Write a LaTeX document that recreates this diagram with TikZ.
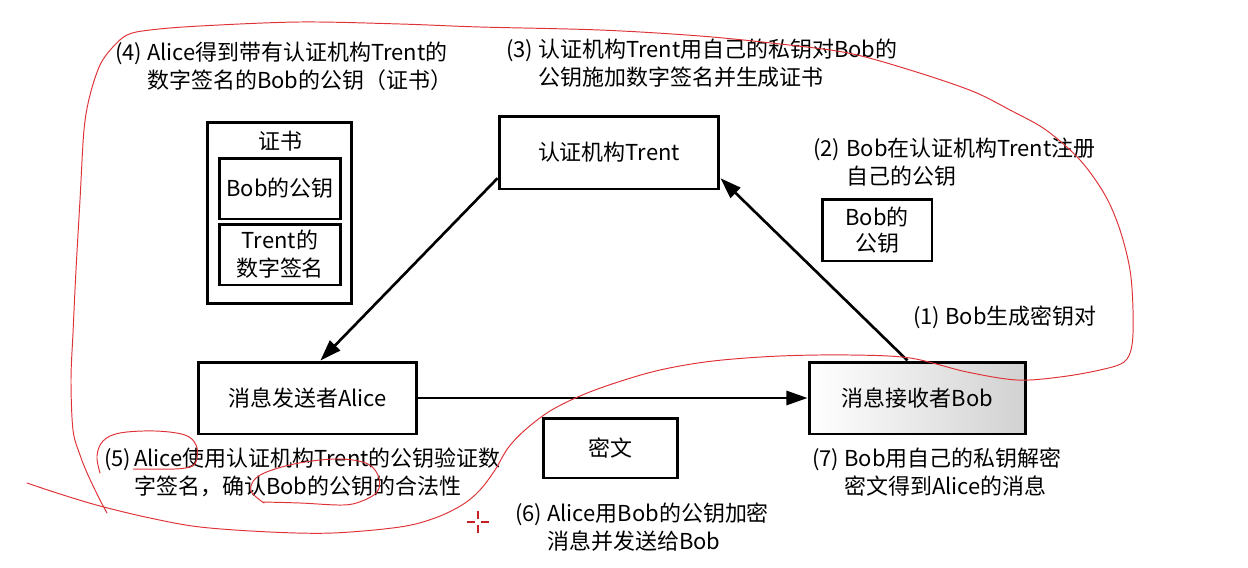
\documentclass[tikz,border=0pt]{standalone}
\usepackage{fontspec}
\setmainfont{Noto Sans CJK SC}
\usetikzlibrary{arrows.meta}
\definecolor{inkred}{RGB}{222,50,55}
\definecolor{cursorred}{RGB}{200,30,40}
\begin{document}
\begin{tikzpicture}[x=0.02cm,y=-0.02cm,
  font=\fontsize{12.5pt}{16pt}\selectfont,
  box/.style={draw, line width=1.7pt, inner sep=0pt, align=center},
  flow/.style={line width=1.5pt, -{Triangle[length=12pt,width=8pt]}},
  note/.style={anchor=base west, inner sep=0pt},
  ink/.style={draw=inkred, line width=0.55pt, line cap=round, line join=round},
  crosshair/.style={draw=cursorred, line width=1.1pt}]

\useasboundingbox (0,0) rectangle (1248,568);

% ---- boxes ----
\node[box, minimum width=4.4cm, minimum height=1.46cm] (trent) at (609,152.5) {认证机构Trent};
\node[box, minimum width=4.38cm, minimum height=1.44cm] (alice) at (307.5,398) {消息发送者Alice};
\node[box, minimum width=4.34cm, minimum height=1.44cm,
      left color=white, right color=black!18] (bob) at (917.5,398) {消息接收者Bob};
\node[box, minimum width=2.7cm, minimum height=1.2cm] (cipher) at (610.5,448) {密文};
\node[box, minimum width=2.2cm, minimum height=1.24cm,
      font=\fontsize{12.5pt}{14.5pt}\selectfont] (bobkey) at (877,230) {Bob的\\公钥};

% certificate
\node[box, minimum width=2.9cm, minimum height=3.64cm] (cert) at (279.5,213) {};
\node (certtitle) at (280,141) {证书};
\node[box, minimum width=2.44cm, minimum height=1.22cm] (certkey) at (280,188.5) {Bob的公钥};
\node[box, minimum width=2.44cm, minimum height=1.22cm] (certsig) at (280,254.5) {Trent的\\数字签名};

% ---- connectors ----
\draw[flow] (trent.193) -- (alice.71);
\draw[flow] (bob.105) -- (trent.347);
\draw[flow] (alice.east) -- (bob.west);

% ---- step notes ----
\node[note] (n4) at (115,60) {(4)};
\node[note] (t4) at (147,60) {\begin{tabular}[t]{@{}l@{}}Alice得到带有认证机构Trent的\\数字签名的Bob的公钥（证书）\end{tabular}};

\node[note] (n3) at (506,57) {(3)};
\node[note] (t3) at (538,57) {\begin{tabular}[t]{@{}l@{}}认证机构Trent用自己的私钥对Bob的\\公钥施加数字签名并生成证书\end{tabular}};

\node[note] (n2) at (813,156) {(2)};
\node[note] (t2) at (846,156) {\begin{tabular}[t]{@{}l@{}}Bob在认证机构Trent注册\\自己的公钥\end{tabular}};

\node[note] (n1) at (913,324) {(1) Bob生成密钥对};

\node[note] (n5) at (104,466) {(5)};
\node[note] (t5) at (134,466) {\begin{tabular}[t]{@{}l@{}}Alice使用认证机构Trent的公钥验证数\\字签名，确认Bob的公钥的合法性\end{tabular}};

\node[note] (n7) at (812,466) {(7)};
\node[note] (t7) at (844,466) {\begin{tabular}[t]{@{}l@{}}Bob用自己的私钥解密\\密文得到Alice的消息\end{tabular}};

\node[note] (n6) at (515,521) {(6)};
\node[note] (t6) at (547,521) {\begin{tabular}[t]{@{}l@{}}Alice用Bob的公钥加密\\消息并发送给Bob\end{tabular}};

% ---- red pen annotations ----
\draw[ink] plot[smooth, tension=0.55] coordinates {
  (27,483) (60,494) (100,506) (150,518) (200,527) (270,532) (333,533)
  (400,527) (435,518) (462,505) (480,490) (495,470) (508,448) (525,430)
  (550,411) (580,396) (615,383) (660,370) (713,361) (780,356) (850,355)
  (910,358) (967,372) (1017,380) (1060,377) (1100,370) (1124,362)
  (1132,345) (1133,310) (1130,270) (1120,230) (1105,195) (1080,160)
  (1046,130) (1010,110) (972,91) (910,70) (848,53) (780,44) (700,36)
  (600,30) (480,27) (400,24) (300,22) (200,26) (150,30) (127,35)
  (112,48) (100,65) (90,95) (84,130) (80,200) (76,270) (73,333)
  (71,380) (73,430) (80,455) (88,475) (100,500) (107,513)};
\draw[ink] plot[smooth, tension=0.6] coordinates {
  (100,473) (97,456) (103,441) (120,433) (155,431) (185,435) (196,445)
  (197,458) (192,466) (175,469) (133,469)};
\draw[ink] plot[smooth, tension=0.6] coordinates {
  (264,503) (251,491) (256,478) (275,469) (305,462) (340,459) (368,464)
  (379,478) (377,492) (362,501) (343,505) (300,503) (262,502)};

% pointer cross
\draw[crosshair] (467,522) -- (475,522) (481,522) -- (489,522)
                 (478,511) -- (478,519) (478,525) -- (478,533);
\end{tikzpicture}
\end{document}
